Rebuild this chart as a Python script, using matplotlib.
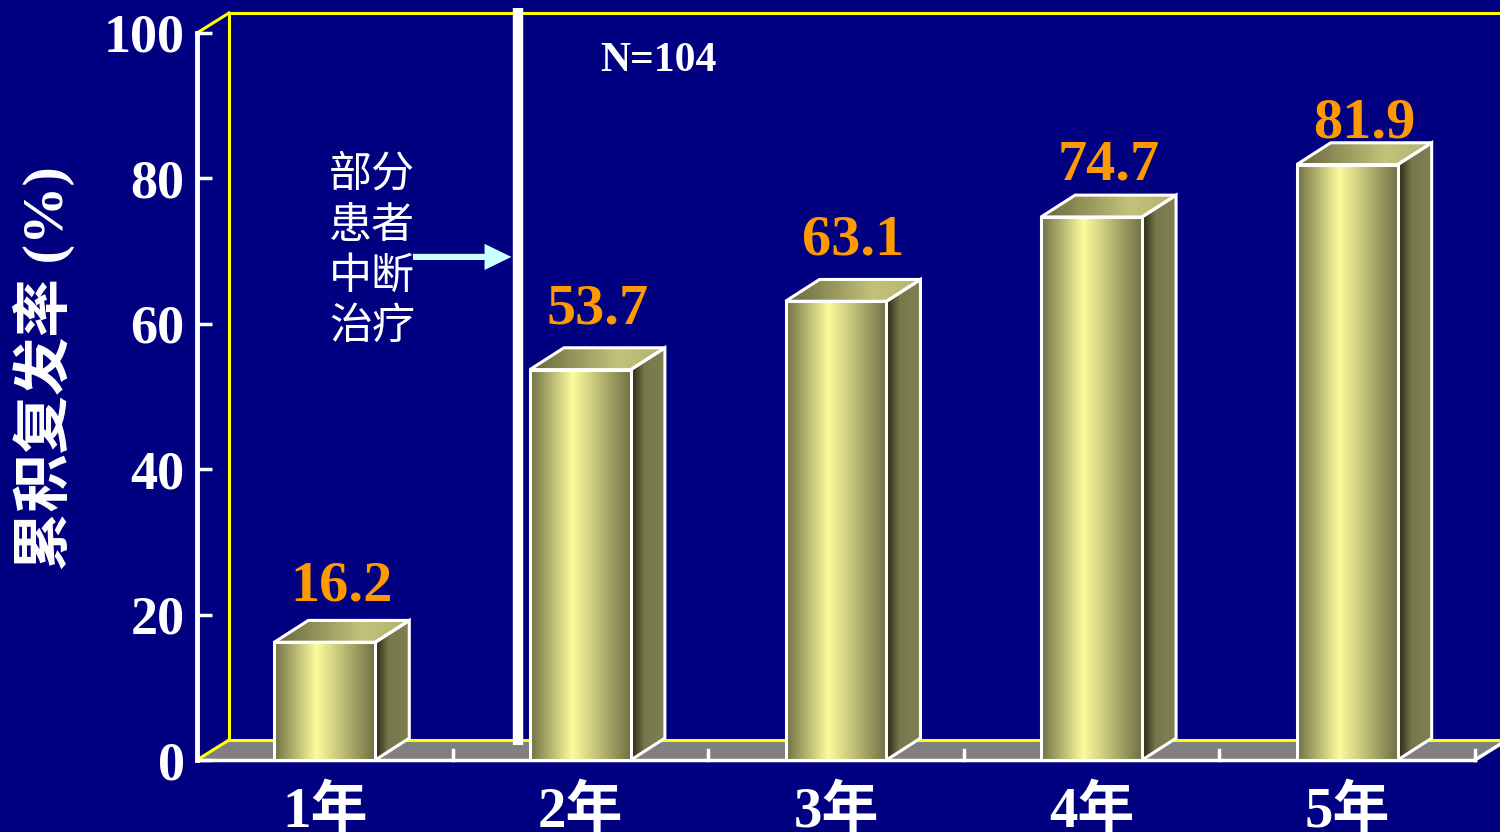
import numpy as np
import matplotlib.pyplot as plt
from matplotlib.patches import Polygon, FancyArrow

years = ["1年", "2年", "3年", "4年", "5年"]
rates = [16.2, 53.7, 63.1, 74.7, 81.9]
yticks = [0, 20, 40, 60, 80, 100]
n_label = "N=104"
note = "部分\n患者\n中断\n治疗"
ylabel = "累积复发率 (%)"

BG = "#000080"
ORANGE = "#FF9900"
SERIF = ["Liberation Serif", "Noto Sans CJK SC"]

# bar geometry (category units / percent units)
bar_w = 0.395
dx, dy = 0.133, 3.0        # depth of the boxes
fdx, fdy = 0.125, 2.75     # depth of floor / back wall
label_gap = [7.6, 8.2, 8.4, 7.1, 5.7]   # value label lift above each bar

front_stops = [(0.0, (0.44, 0.44, 0.27)), (0.42, (0.99, 0.99, 0.62)),
               (1.0, (0.44, 0.44, 0.27))]
side_stops = [(0.0, (0.14, 0.14, 0.07)), (0.4, (0.47, 0.47, 0.30)),
              (1.0, (0.50, 0.50, 0.32))]
top_stops = [(0.0, (0.40, 0.40, 0.24)), (0.65, (0.76, 0.76, 0.48)),
             (1.0, (0.70, 0.70, 0.44))]


def ramp(stops, n=256):
    t = np.linspace(0, 1, n)
    pos = [s[0] for s in stops]
    rgb = np.array([s[1] for s in stops])
    cols = np.stack([np.interp(t, pos, rgb[:, k]) for k in range(3)], axis=-1)
    return cols[np.newaxis, :, :]


def shaded_face(ax, verts, stops, z):
    xs = [v[0] for v in verts]
    ys = [v[1] for v in verts]
    im = ax.imshow(ramp(stops), extent=(min(xs), max(xs), min(ys), max(ys)),
                   aspect="auto", interpolation="bilinear", zorder=z,
                   origin="lower")
    edge = Polygon(verts, closed=True, fc="none", ec="white", lw=2.2,
                   zorder=z + 0.1, joinstyle="miter")
    ax.add_patch(edge)
    im.set_clip_path(edge)


fig = plt.figure(figsize=(15, 8.32), dpi=100, facecolor=BG)
ax = fig.add_axes([197 / 1500, 72 / 832, 1278 / 1500, 727 / 832])
ax.set_facecolor("none")
ax.set_xlim(-0.5, 4.5)
ax.set_ylim(0, 100)

# floor and back wall
floor = Polygon([(-0.5, 0), (4.5, 0), (4.5 + fdx, fdy), (-0.5 + fdx, fdy)],
                closed=True, fc="#808080", ec="none", zorder=1, clip_on=False)
ax.add_patch(floor)
yl = dict(color="#FFFF00", lw=2.2, clip_on=False, zorder=1.5)
ax.plot([-0.5 + fdx, -0.5 + fdx], [fdy, 100 + fdy], **yl)
ax.plot([-0.5 + fdx, 4.8], [100 + fdy, 100 + fdy], **yl)
ax.plot([-0.5, -0.5 + fdx], [100, 100 + fdy], **yl)
ax.plot([-0.5 + fdx, 4.8], [fdy, fdy], **yl)
ax.plot([-0.5, -0.5 + fdx], [0, fdy], **yl)
wl = dict(color="white", lw=2.5, clip_on=False, zorder=2)
ax.plot([-0.5, 4.5], [0, 0], **wl)
ax.plot([4.5, 4.5 + fdx], [0, fdy], **wl)
for b in np.arange(0.5, 5.0, 1.0):
    ax.plot([b, b], [0, 1.4], **wl)

# 3D-looking bars
for i, v in enumerate(rates):
    x0, x1 = i - bar_w / 2, i + bar_w / 2
    shaded_face(ax, [(x1, 0), (x1 + dx, dy), (x1 + dx, v + dy), (x1, v)],
                side_stops, 3)
    shaded_face(ax, [(x0, v), (x1, v), (x1 + dx, v + dy), (x0 + dx, v + dy)],
                top_stops, 3)
    shaded_face(ax, [(x0, 0), (x1, 0), (x1, v), (x0, v)], front_stops, 3.5)
    ax.text(i + dx / 2, v + label_gap[i], f"{v:.1f}", color=ORANGE,
            fontsize=42, fontweight="bold", family=SERIF,
            ha="center", va="center", zorder=5)

# category labels
for i, name in enumerate(years):
    ax.text(i, -7.2, name, color="white", fontsize=41, fontweight="bold",
            family=SERIF, ha="center", va="center", clip_on=False)

# treatment interruption marker
ax.plot([0.754, 0.754], [2.0, 103.5], color="white", lw=7.5,
        solid_capstyle="butt", clip_on=False, zorder=4)
ax.text(0.185, 70.0, note, color="white", fontsize=31,
        family=["Noto Sans CJK SC", "DejaVu Sans"], ha="center",
        va="center", linespacing=1.2, zorder=5)
ax.add_patch(FancyArrow(0.345, 69.2, 0.385, 0, width=0.85, head_width=3.6,
                        head_length=0.105, length_includes_head=True,
                        color="#CCFFFF", lw=0, zorder=5))
ax.text(1.307, 96.1, n_label, color="white", fontsize=30, fontweight="bold",
        family=SERIF, ha="center", va="center", zorder=5)

# y axis
for s in ["top", "right", "bottom"]:
    ax.spines[s].set_visible(False)
ax.spines["left"].set_color("white")
ax.spines["left"].set_linewidth(3.5)
ax.set_xticks([])
ax.set_yticks(yticks)
ax.set_yticklabels([str(t) for t in yticks])
ax.tick_params(axis="y", direction="in", length=11, width=2.5,
               colors="white", pad=9, labelsize=39)
for lab in ax.get_yticklabels():
    lab.set_family(SERIF)
    lab.set_fontweight("bold")

fig.text(45 / 1500, 1 - 368 / 832, ylabel, color="white", fontsize=42,
         fontweight="bold", family=SERIF, rotation=90,
         ha="center", va="center")

fig.savefig("out.png", dpi=100, facecolor=BG)
